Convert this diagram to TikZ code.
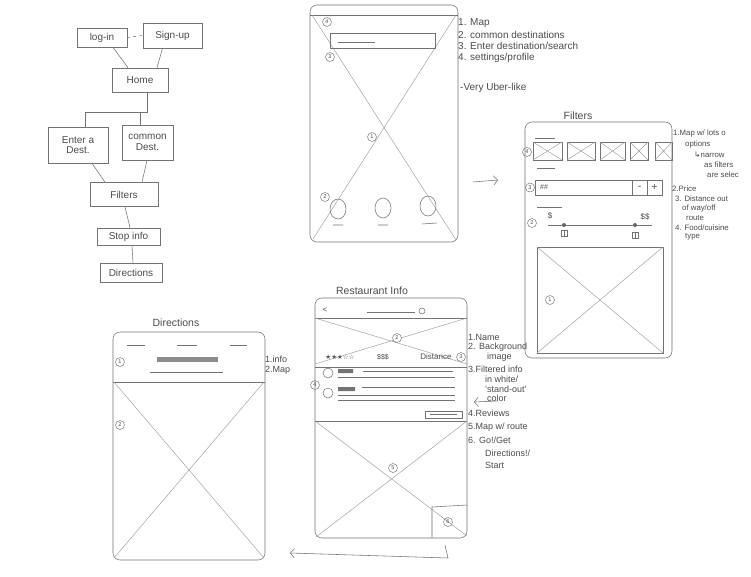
\documentclass[tikz,border=0pt]{standalone}
\usepackage{fontspec}
\setmainfont{Liberation Sans}
\newfontfamily\symf{DejaVu Sans}
\usetikzlibrary{arrows.meta,calc}
\newcommand{\xrect}[4]{\draw[pen] (#1,#2) rectangle (#3,#4); \draw[faint] (#1,#2) -- (#3,#4) (#3,#2) -- (#1,#4);}
\begin{document}
\begin{tikzpicture}[x=1pt,y=-1pt,
 pen/.style={draw=black!55,line width=0.55pt},
 faint/.style={draw=black!38,line width=0.45pt},
 fbox/.style={pen,rectangle,inner sep=1pt,text=black!70,font=\fontsize{10}{10.5}\selectfont,align=center},
 phone/.style={pen,rectangle,rounded corners=7pt},
 num/.style={circle,draw=black!55,line width=0.45pt,inner sep=0pt,minimum size=9pt,text=black!70,font=\fontsize{5.5}{6}\selectfont},
 note/.style={anchor=west,inner sep=0pt,text=black!70,font=\fontsize{9}{10}\selectfont},
 snote/.style={note,font=\fontsize{7.8}{8.5}\selectfont},
 bignote/.style={note,font=\fontsize{10}{11}\selectfont},
 ttl/.style={inner sep=0pt,text=black!70,font=\fontsize{10.5}{11}\selectfont},
 arr/.style={pen,-{Straight Barb[length=4pt,width=9pt]}}]
\useasboundingbox (0,0) rectangle (751,576);
\fill[white] (0,0) rectangle (751,576);

% ---------------- flow chart ----------------
\node[fbox,minimum width=50pt,minimum height=19pt] (login) at (102,37.5) {log-in};
\node[fbox,minimum width=59pt,minimum height=25pt] (signup) at (172.5,35.5) {Sign-up};
\node[fbox,minimum width=56pt,minimum height=24pt] (home) at (140,80) {Home};
\node[fbox,minimum width=60pt,minimum height=36pt] (enter) at (78,145) {Enter a\\Dest.};
\node[fbox,minimum width=51pt,minimum height=35pt] (common) at (147.5,142.5) {common\\Dest.};
\node[fbox,minimum width=68pt,minimum height=24pt] (filters) at (124,194.5) {Filters};
\node[fbox,minimum width=63pt,minimum height=17pt] (stop) at (128.5,236.5) {Stop info};
\node[fbox,minimum width=62pt,minimum height=19pt] (dirs) at (131,272.5) {Directions};

\draw[pen,dashed] (login.east) -- (signup.west);
\draw[pen] ($(login.south)+(11,0)$) -- ($(home.north)+(-12,0)$);
\draw[pen] ($(signup.south)+(-10,0)$) -- ($(home.north)+(17,0)$);
\draw[pen] ($(home.south)+(7,0)$) -- ++(0,20) -| ($(enter.north)+(7,0)$);
\draw[pen] ($(common.north)+(-7.5,0)$) -- ++(0,-13);
\draw[pen] ($(enter.south)+(14,0)$) -- ($(filters.north)+(-19,0)$);
\draw[pen] ($(common.south)+(-0.5,0)$) -- ($(filters.north)+(18,0)$);
\draw[pen] ($(filters.south)+(1,0)$) -- ($(stop.north)+(1.5,0)$);
\draw[pen] ($(stop.south)+(3.5,0)$) -- ($(dirs.north)+(2,0)$);

% ---------------- Home screen ----------------
\node[phone,minimum width=148pt,minimum height=237pt] (homeF) at (384,123.5) {};
\draw[pen] (310,15) -- (458,15);
\draw[faint] (312,15) -- (456,240);
\draw[faint] (456,15) -- (313,239);
\node[num] at (327,22) {4};
\draw[pen] (330,33) rectangle (435,48);
\draw[pen] (338,42) -- (375,42);
\node[num] at (330,57) {3};
\node[num] at (372,137) {1};
\node[num] at (325,197) {2};
\draw[pen] (338,209) ellipse [x radius=8pt,y radius=10pt];
\draw[pen] (383,208) ellipse [x radius=8pt,y radius=10pt];
\draw[pen] (428,206) ellipse [x radius=8pt,y radius=10pt];
\draw[pen] (333,225) -- (343,225) (378,225) -- (388,225) (422,224) -- (437,223);

\node[bignote] at (458,23) {1. Map};
\node[bignote] at (458,34.5) {2. common destinations};
\node[bignote] at (458,46) {3. Enter destination/search};
\node[bignote] at (458,57.5) {4. settings/profile};
\node[bignote] at (460,88) {-Very Uber-like};

\coordinate (a1s) at (473,182);
\coordinate (a1e) at (498,180);
\draw[arr] (a1s) -- (a1e);

% ---------------- Filters screen ----------------
\node[ttl] at (578,116) {Filters};
\node[phone,minimum width=147pt,minimum height=236pt] (filtF) at (598.5,240) {};
\draw[pen] (535,138) -- (555,138);
\xrect{533}{142}{562}{160}
\xrect{567}{142}{595}{160}
\xrect{600}{142}{625}{160}
\xrect{630}{142}{648}{160}
\xrect{655}{142}{672}{160}
\node[num] at (527,152) {4};
\draw[pen] (537,168) -- (555,168);
\draw[pen] (535,180) rectangle (662,195);
\draw[pen] (632,180) -- (632,195) (647,180) -- (647,195);
\node[note,font=\fontsize{7}{8}\selectfont] at (540,187.5) {\#\#};
\node[ttl] at (639.5,187.5) {-};
\node[ttl] at (654.5,187.5) {+};
\node[num] at (530,187.5) {3};
\draw[pen] (537,207) -- (562,207);
\node[num] at (532,223) {2};
\node[ttl,font=\fontsize{8}{9}\selectfont] at (550,216) {\$};
\node[ttl,font=\fontsize{8}{9}\selectfont] at (645,217) {\$\$};
\draw[pen] (548,225) -- (652,225);
\fill[black!60] (564,225) circle (2pt) (635,225) circle (2pt);
\draw[pen] (561,230) rectangle (567,236) (564,230) -- (564,236);
\draw[pen] (632,232) rectangle (638,238) (635,232) -- (635,238);
\xrect{537}{247}{663}{353}
\node[num] at (550,300) {1};

\node[snote] at (673,133) {1.Map w/ lots o};
\node[snote] at (685,144) {options};
\node[snote] at (694,155) {{\symf ↳}narrow};
\node[snote] at (704,165) {as filters};
\node[snote] at (707,175) {are selec};
\node[snote] at (672,189) {2.Price};
\node[snote] at (675,199) {3. Distance out};
\node[snote] at (682,208.5) {of way/off};
\node[snote] at (686,218) {route};
\node[snote] at (675,227.5) {4. Food/cuisine};
\node[snote] at (685,237) {type};

\coordinate (a2s) at (497,401);
\coordinate (a2e) at (474,402);
\draw[arr] (a2s) -- (a2e);

% ---------------- Restaurant Info screen ----------------
\node[ttl] at (372,291) {Restaurant Info};
\node[phone,minimum width=152pt,minimum height=240pt] (restF) at (391,418) {};
\node[ttl,font=\fontsize{8}{9}\selectfont] at (325,310) {<};
\draw[pen] (367,312) -- (415,312);
\draw[pen] (422,311) circle (3pt);
\draw[pen] (315,318) -- (467,318);
\draw[faint] (315,318) -- (467,364) (467,318) -- (315,364);
\node[num,fill=white] at (397,338) {2};
\node[inner sep=0pt,text=black!65,font=\symf\fontsize{6.5}{7}\selectfont] at (340,357) {★★★☆☆};
\node[ttl,font=\fontsize{7}{8}\selectfont] at (383,357) {\$\$\$};
\node[ttl,font=\fontsize{8}{9}\selectfont] at (436,357) {Distance};
\node[num] at (461,357) {3};
\draw[pen] (315,367) -- (467,367);
\draw[pen] (328,373) circle (5pt) (328,393) circle (5pt);
\node[num] at (315,385) {4};
\fill[black!55] (338,369) rectangle (353,373) (338,387) rectangle (355,391);
\draw[pen] (363,371) -- (453,371) (338,377) -- (455,377);
\draw[pen] (362,387) -- (455,387) (338,395) -- (455,395) (338,400) -- (455,400);
\draw[pen] (425,411) rectangle (462,418);
\draw[pen] (430,414.5) -- (457,414.5);
\draw[pen] (315,421) -- (467,421);
\draw[faint] (315,421) -- (467,536) (467,421) -- (316,537);
\node[num,fill=white] at (393,468) {5};
\draw[pen] (432,538) -- (432,507) -- (467,505);
\node[num] at (448,522) {6};

\node[note] at (468,337) {1.Name};
\node[note] at (468,347) {2. Background};
\node[note] at (487,357) {image};
\node[note] at (468,369) {3.Filtered info};
\node[note] at (485,379) {in white/};
\node[note] at (485,389) {'stand-out'};
\node[note] at (487,398) {color};
\node[note] at (468,413) {4.Reviews};
\node[note] at (468,427) {5.Map w/ route};
\node[note] at (468,440) {6. Go!/Get};
\node[note] at (485,453) {Directions!/};
\node[note] at (485,465) {Start};

\coordinate (a3s) at (445,545);
\coordinate (a3m) at (448,558);
\coordinate (a3e) at (290,553);
\draw[arr] (a3s) -- (a3m) -- (a3e);

% ---------------- Directions screen ----------------
\node[ttl] at (176,323) {Directions};
\node[phone,minimum width=152pt,minimum height=228pt] (dirF) at (189,446) {};
\draw[pen] (127,345) -- (145,345) (177,345) -- (197,345) (230,345) -- (247,345);
\node[num] at (120,362) {1};
\fill[black!45] (157,357) rectangle (218,362);
\draw[pen] (150,372) -- (223,372);
\draw[pen] (113,382) -- (265,382);
\draw[faint] (114,382) -- (264,558) (264,382) -- (114,558);
\node[num] at (120,425) {2};
\node[note] at (265,359) {1.info};
\node[note] at (265,370) {2.Map};
\end{tikzpicture}
\end{document}
